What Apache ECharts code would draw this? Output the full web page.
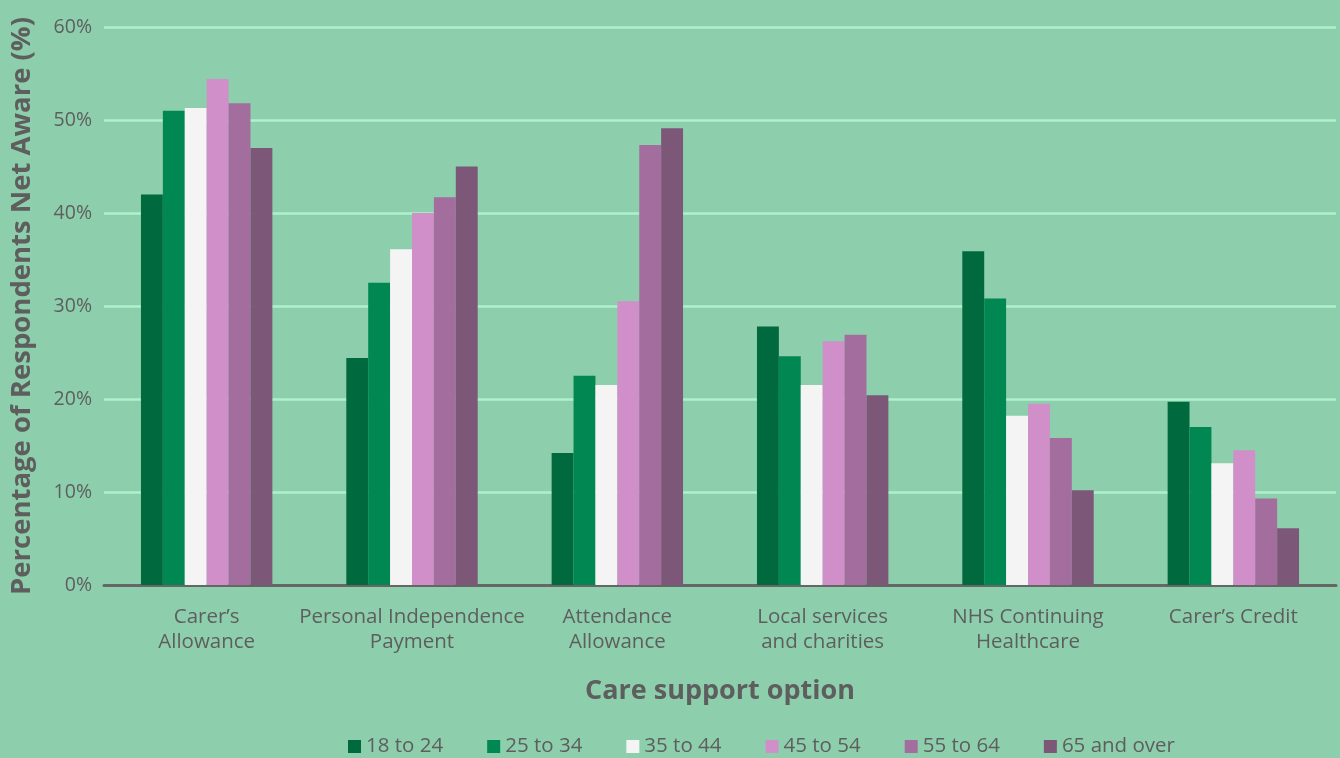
<!DOCTYPE html>
<html>
<head>
<meta charset="utf-8">
<script src="https://cdn.jsdelivr.net/npm/echarts@6/dist/echarts.min.js"></script>
<style>
  html, body { margin: 0; padding: 0; background: #8dcfac; }
  #chart { width: 1340px; height: 758px; }
</style>
</head>
<body>
<div id="chart"></div>
<script>
// Awareness of care support options by age group (% net aware)
const categories = [
  "Carer\u2019s\nAllowance",
  "Personal Independence\nPayment",
  "Attendance\nAllowance",
  "Local services\nand charities",
  "NHS Continuing\nHealthcare",
  "Carer\u2019s Credit"
];
const ageGroups = ["18 to 24", "25 to 34", "35 to 44", "45 to 54", "55 to 64", "65 and over"];
const colors = ["#00693e", "#008752", "#f4f4f4", "#d18fc9", "#a36d9e", "#7d5777"];

const age18to24 = [42.0, 24.4, 14.2, 27.8, 35.9, 19.7];
const age25to34 = [51.0, 32.5, 22.5, 24.6, 30.8, 17.0];
const age35to44 = [51.3, 36.1, 21.5, 21.5, 18.2, 13.1];
const age45to54 = [54.4, 40.0, 30.5, 26.2, 19.5, 14.5];
const age55to64 = [51.8, 41.7, 47.3, 26.9, 15.8, 9.3];
const age65plus = [47.0, 45.0, 49.1, 20.4, 10.2, 6.1];

const seriesValues = [age18to24, age25to34, age35to44, age45to54, age55to64, age65plus];
const yTicks = [0, 10, 20, 30, 40, 50, 60];

const textColor = "#5e5e5e";
const font = "'Open Sans', 'Noto Sans', sans-serif";

const chart = echarts.init(document.getElementById("chart"), null, { renderer: "canvas" });
chart.setOption({
  backgroundColor: "#8dcfac",
  animation: false,
  grid: { left: 104, right: 4, top: 27, bottom: 173, containLabel: false, outerBoundsMode: "none" },
  legend: {
    bottom: -4,
    left: 343,
    itemWidth: 13,
    itemHeight: 13,
    itemGap: 44,
    icon: "rect",
    textStyle: { color: textColor, fontSize: 20.5, fontFamily: font },
    data: ageGroups
  },
  xAxis: {
    type: "category",
    data: categories,
    name: "Care support option",
    nameLocation: "middle",
    nameGap: 93,
    nameTextStyle: { color: textColor, fontSize: 27, fontWeight: "bold", fontFamily: font },
    axisLine: { lineStyle: { color: "#666666", width: 3 } },
    axisTick: { show: false },
    axisLabel: { color: textColor, fontSize: 20.5, fontFamily: font, margin: 20, lineHeight: 25, interval: 0 }
  },
  yAxis: {
    type: "value",
    min: yTicks[0],
    max: yTicks[yTicks.length - 1],
    interval: 10,
    name: "Percentage of Respondents Net Aware (%)",
    nameLocation: "middle",
    nameGap: 68,
    nameTextStyle: { color: textColor, fontSize: 27.5, fontWeight: "bold", fontFamily: font },
    axisLine: { show: false },
    axisTick: { show: false },
    axisLabel: { color: textColor, fontSize: 19.5, fontFamily: font, margin: 12, formatter: "{value}%" },
    splitLine: { lineStyle: { color: "#aef2cd", width: 2.5 } }
  },
  series: seriesValues.map((vals, i) => ({
    name: ageGroups[i],
    type: "bar",
    data: vals,
    barGap: "0%",
    barCategoryGap: "36%",
    itemStyle: { color: colors[i] }
  }))
});
</script>
</body>
</html>
